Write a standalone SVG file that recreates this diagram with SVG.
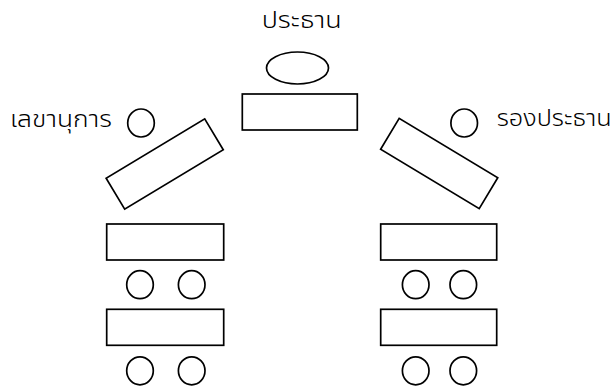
<svg xmlns="http://www.w3.org/2000/svg" width="614" height="391" viewBox="0 0 614 391">
<style>
.s{fill:#fff;stroke:#000;stroke-width:1.7}
.t{font-family:"Noto Sans Thai","Noto Sans","DejaVu Sans",sans-serif;font-size:23px;font-weight:300;fill:#000}
</style>
<rect width="614" height="391" fill="#fff"/>
<g id="chair-head">
<text class="t" x="261.7" y="28" textLength="80" lengthAdjust="spacingAndGlyphs">ประธาน</text>
<ellipse class="s" cx="297.5" cy="68" rx="31" ry="16"/>
<rect class="s" x="242.3" y="94" width="115" height="36"/>
</g>
<g id="secretary">
<text class="t" x="10" y="127" textLength="102" lengthAdjust="spacingAndGlyphs">เลขานุการ</text>
<ellipse class="s" cx="141" cy="123" rx="13.3" ry="14"/>
<rect class="s" x="-57.5" y="-18" width="115" height="36" transform="translate(164.7 164) rotate(-31)"/>
</g>
<g id="vice-chair">
<text class="t" x="496.7" y="126" textLength="115" lengthAdjust="spacingAndGlyphs">รองประธาน</text>
<ellipse class="s" cx="464.2" cy="123" rx="13.3" ry="14"/>
<rect class="s" x="-57.5" y="-18" width="115" height="36" transform="translate(439.2 163.5) rotate(31)"/>
</g>
<g id="left-row1">
<rect class="s" x="106.7" y="224" width="117" height="36"/>
<ellipse class="s" cx="140" cy="284.7" rx="13.3" ry="14"/>
<ellipse class="s" cx="191.7" cy="284.7" rx="13.3" ry="14"/>
</g>
<g id="left-row2">
<rect class="s" x="106.7" y="309.3" width="117" height="36"/>
<ellipse class="s" cx="140" cy="370.8" rx="13.3" ry="14"/>
<ellipse class="s" cx="191.7" cy="370.8" rx="13.3" ry="14"/>
</g>
<g id="right-row1">
<rect class="s" x="380.7" y="224" width="116" height="36"/>
<ellipse class="s" cx="415.7" cy="284.7" rx="13.3" ry="14"/>
<ellipse class="s" cx="463.3" cy="284.7" rx="13.3" ry="14"/>
</g>
<g id="right-row2">
<rect class="s" x="380.7" y="309.3" width="116" height="36"/>
<ellipse class="s" cx="415.7" cy="370.8" rx="13.3" ry="14"/>
<ellipse class="s" cx="463.3" cy="370.8" rx="13.3" ry="14"/>
</g>
<g id="connectors"/>
</svg>
